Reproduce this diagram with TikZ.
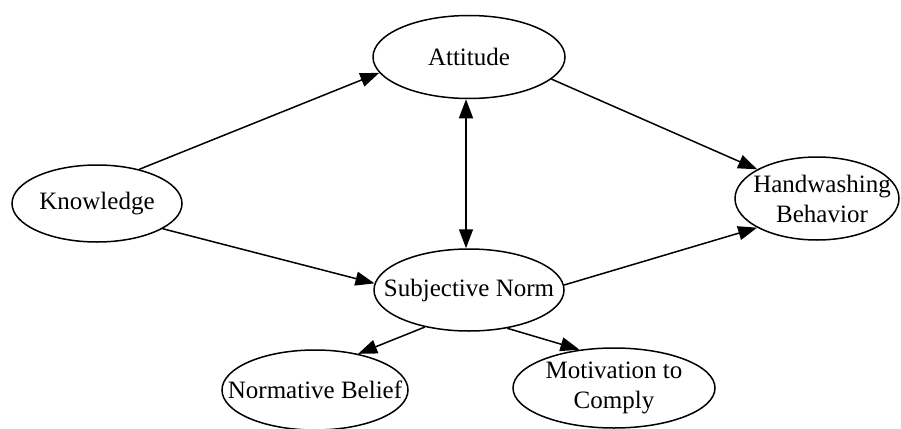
\documentclass[tikz,border=0pt]{standalone}
\usepackage{fontspec}
\setmainfont{Liberation Serif}
\usetikzlibrary{shapes.geometric,arrows.meta}
\begin{document}
\begin{tikzpicture}[x=1pt,y=-1pt,
  ell/.style={ellipse,draw,line width=1.5pt,inner sep=0pt},
  txt/.style={align=center,inner sep=0pt,font=\fontsize{25}{30}\selectfont},
  arr/.style={line width=1.5pt,-{Triangle[length=19pt,width=14pt]}},
  darr/.style={line width=1.5pt,{Triangle[length=19pt,width=14pt]}-{Triangle[length=19pt,width=14pt]}},
]
\useasboundingbox (0,0) rectangle (901,428);
\node[ell,minimum width=170pt,minimum height=77pt] (K) at (97,203.5) {};
\node[txt] (Kt) at (K.center) {Knowledge};
\node[ell,minimum width=192pt,minimum height=83pt] (A) at (469,57) {};
\node[txt] (At) at (A.center) {Attitude};
\node[ell,minimum width=164pt,minimum height=83pt] (HW) at (817,198.5) {};
\node[txt] (HWt) at ([xshift=5pt]HW.center) {Handwashing\\Behavior};
\node[ell,minimum width=190pt,minimum height=82pt] (SN) at (469,290) {};
\node[txt] (SNt) at (SN.center) {Subjective Norm};
\node[ell,minimum width=186pt,minimum height=80pt] (NB) at (315,390) {};
\node[txt] (NBt) at (NB.center) {Normative Belief};
\node[ell,minimum width=202pt,minimum height=80pt] (MC) at (614,388) {};
\node[txt] (MCt) at (MC.center) {Motivation to\\Comply};
\draw[arr] (K.39) -- (A.190);
\draw[arr] (K.-21) -- (SN.176);
\draw[arr] (A.-15) -- (HW.154);
\draw[arr] (SN.3) -- (HW.206);
\draw[arr] (SN.-140) -- (NB.40);
\draw[arr] (SN.-45) -- (MC.132);
\draw[darr] ([xshift=-3pt]A.south) -- ([xshift=-3pt]SN.north);
\end{tikzpicture}
\end{document}
